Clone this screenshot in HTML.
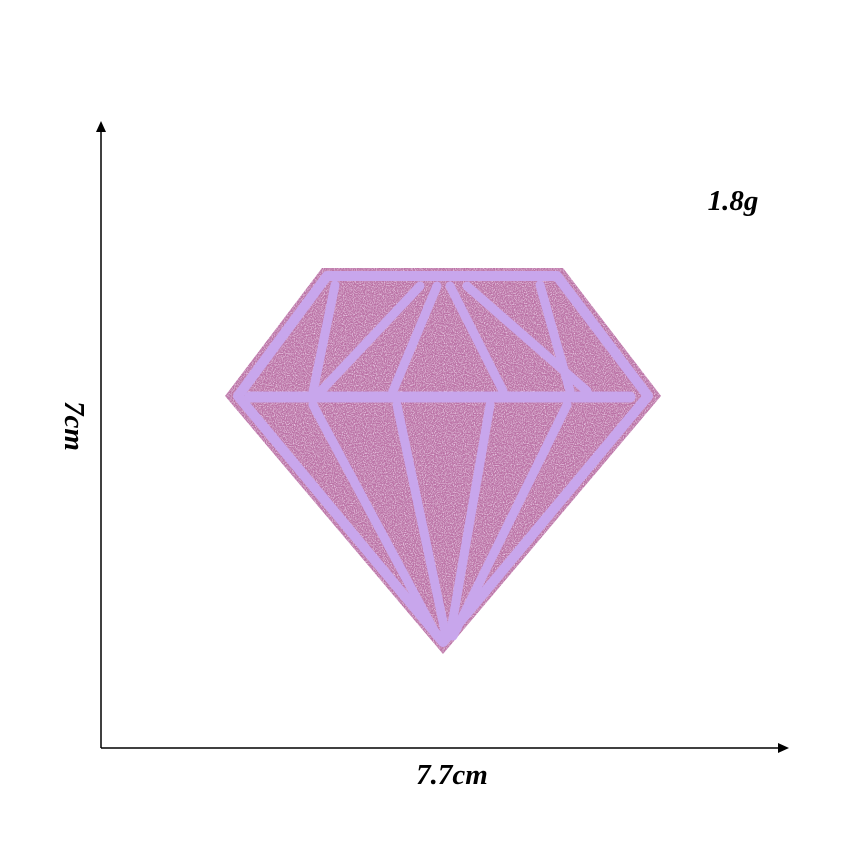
<!DOCTYPE html>
<html><head><meta charset="utf-8">
<style>
html,body{margin:0;padding:0;background:#fff;}
svg{display:block;}
text{font-family:"Liberation Serif",serif;font-weight:bold;font-style:italic;fill:#000;}
</style></head>
<body>
<svg width="850" height="850" viewBox="0 0 850 850">
<defs>
<filter id="glitter" x="0" y="0" width="100%" height="100%">
<feTurbulence type="fractalNoise" baseFrequency="0.9" numOctaves="2" seed="3" result="n"/>
<feColorMatrix in="n" type="matrix" values="0 0 0 0 0.97  0 0 0 0 0.78  0 0 0 0 0.97  0 0 0 2 -0.9" result="sp"/>
<feComposite in="sp" in2="SourceGraphic" operator="in" result="spk"/>
<feMerge><feMergeNode in="SourceGraphic"/><feMergeNode in="spk"/></feMerge>
</filter>
</defs>
<rect width="850" height="850" fill="#fff"/>
<g>
<polygon points="322,268 563,268 661,396 443,654 225,396" fill="#bb72a6" filter="url(#glitter)"/>
<g stroke="#c8a6ec" stroke-linecap="round" stroke-linejoin="round" fill="none">
<polygon points="327,276 557,276 648,396 443,642 238,396" stroke-width="10"/>
<line x1="250" y1="397" x2="630" y2="397" stroke-width="11"/>
<line x1="335" y1="285" x2="313" y2="392" stroke-width="9"/>
<line x1="420" y1="286" x2="320" y2="392" stroke-width="9"/>
<line x1="437" y1="286" x2="393" y2="391" stroke-width="9"/>
<line x1="450" y1="286" x2="503" y2="391" stroke-width="9"/>
<line x1="467" y1="286" x2="587" y2="391" stroke-width="9"/>
<line x1="540" y1="285" x2="570" y2="391" stroke-width="9"/>
<line x1="313" y1="405" x2="437" y2="636" stroke-width="9"/>
<line x1="397" y1="405" x2="446" y2="636" stroke-width="9"/>
<line x1="490" y1="405" x2="450" y2="636" stroke-width="9"/>
<line x1="567" y1="405" x2="453" y2="636" stroke-width="9"/>
</g>
</g>
<g>
<line x1="101" y1="130" x2="101" y2="748" stroke="#000" stroke-width="1.5"/>
<polygon points="101,121 96,132 106,132" fill="#000"/>
<line x1="101" y1="748" x2="780" y2="748" stroke="#000" stroke-width="1.5"/>
<polygon points="789,748 778,743 778,753" fill="#000"/>
</g>
<text x="452" y="784" font-size="29" text-anchor="middle">7.7cm</text>
<text transform="translate(65,426) rotate(90)" font-size="29" text-anchor="middle">7cm</text>
<text x="733" y="210" font-size="29" text-anchor="middle">1.8g</text>
</svg>
</body></html>
